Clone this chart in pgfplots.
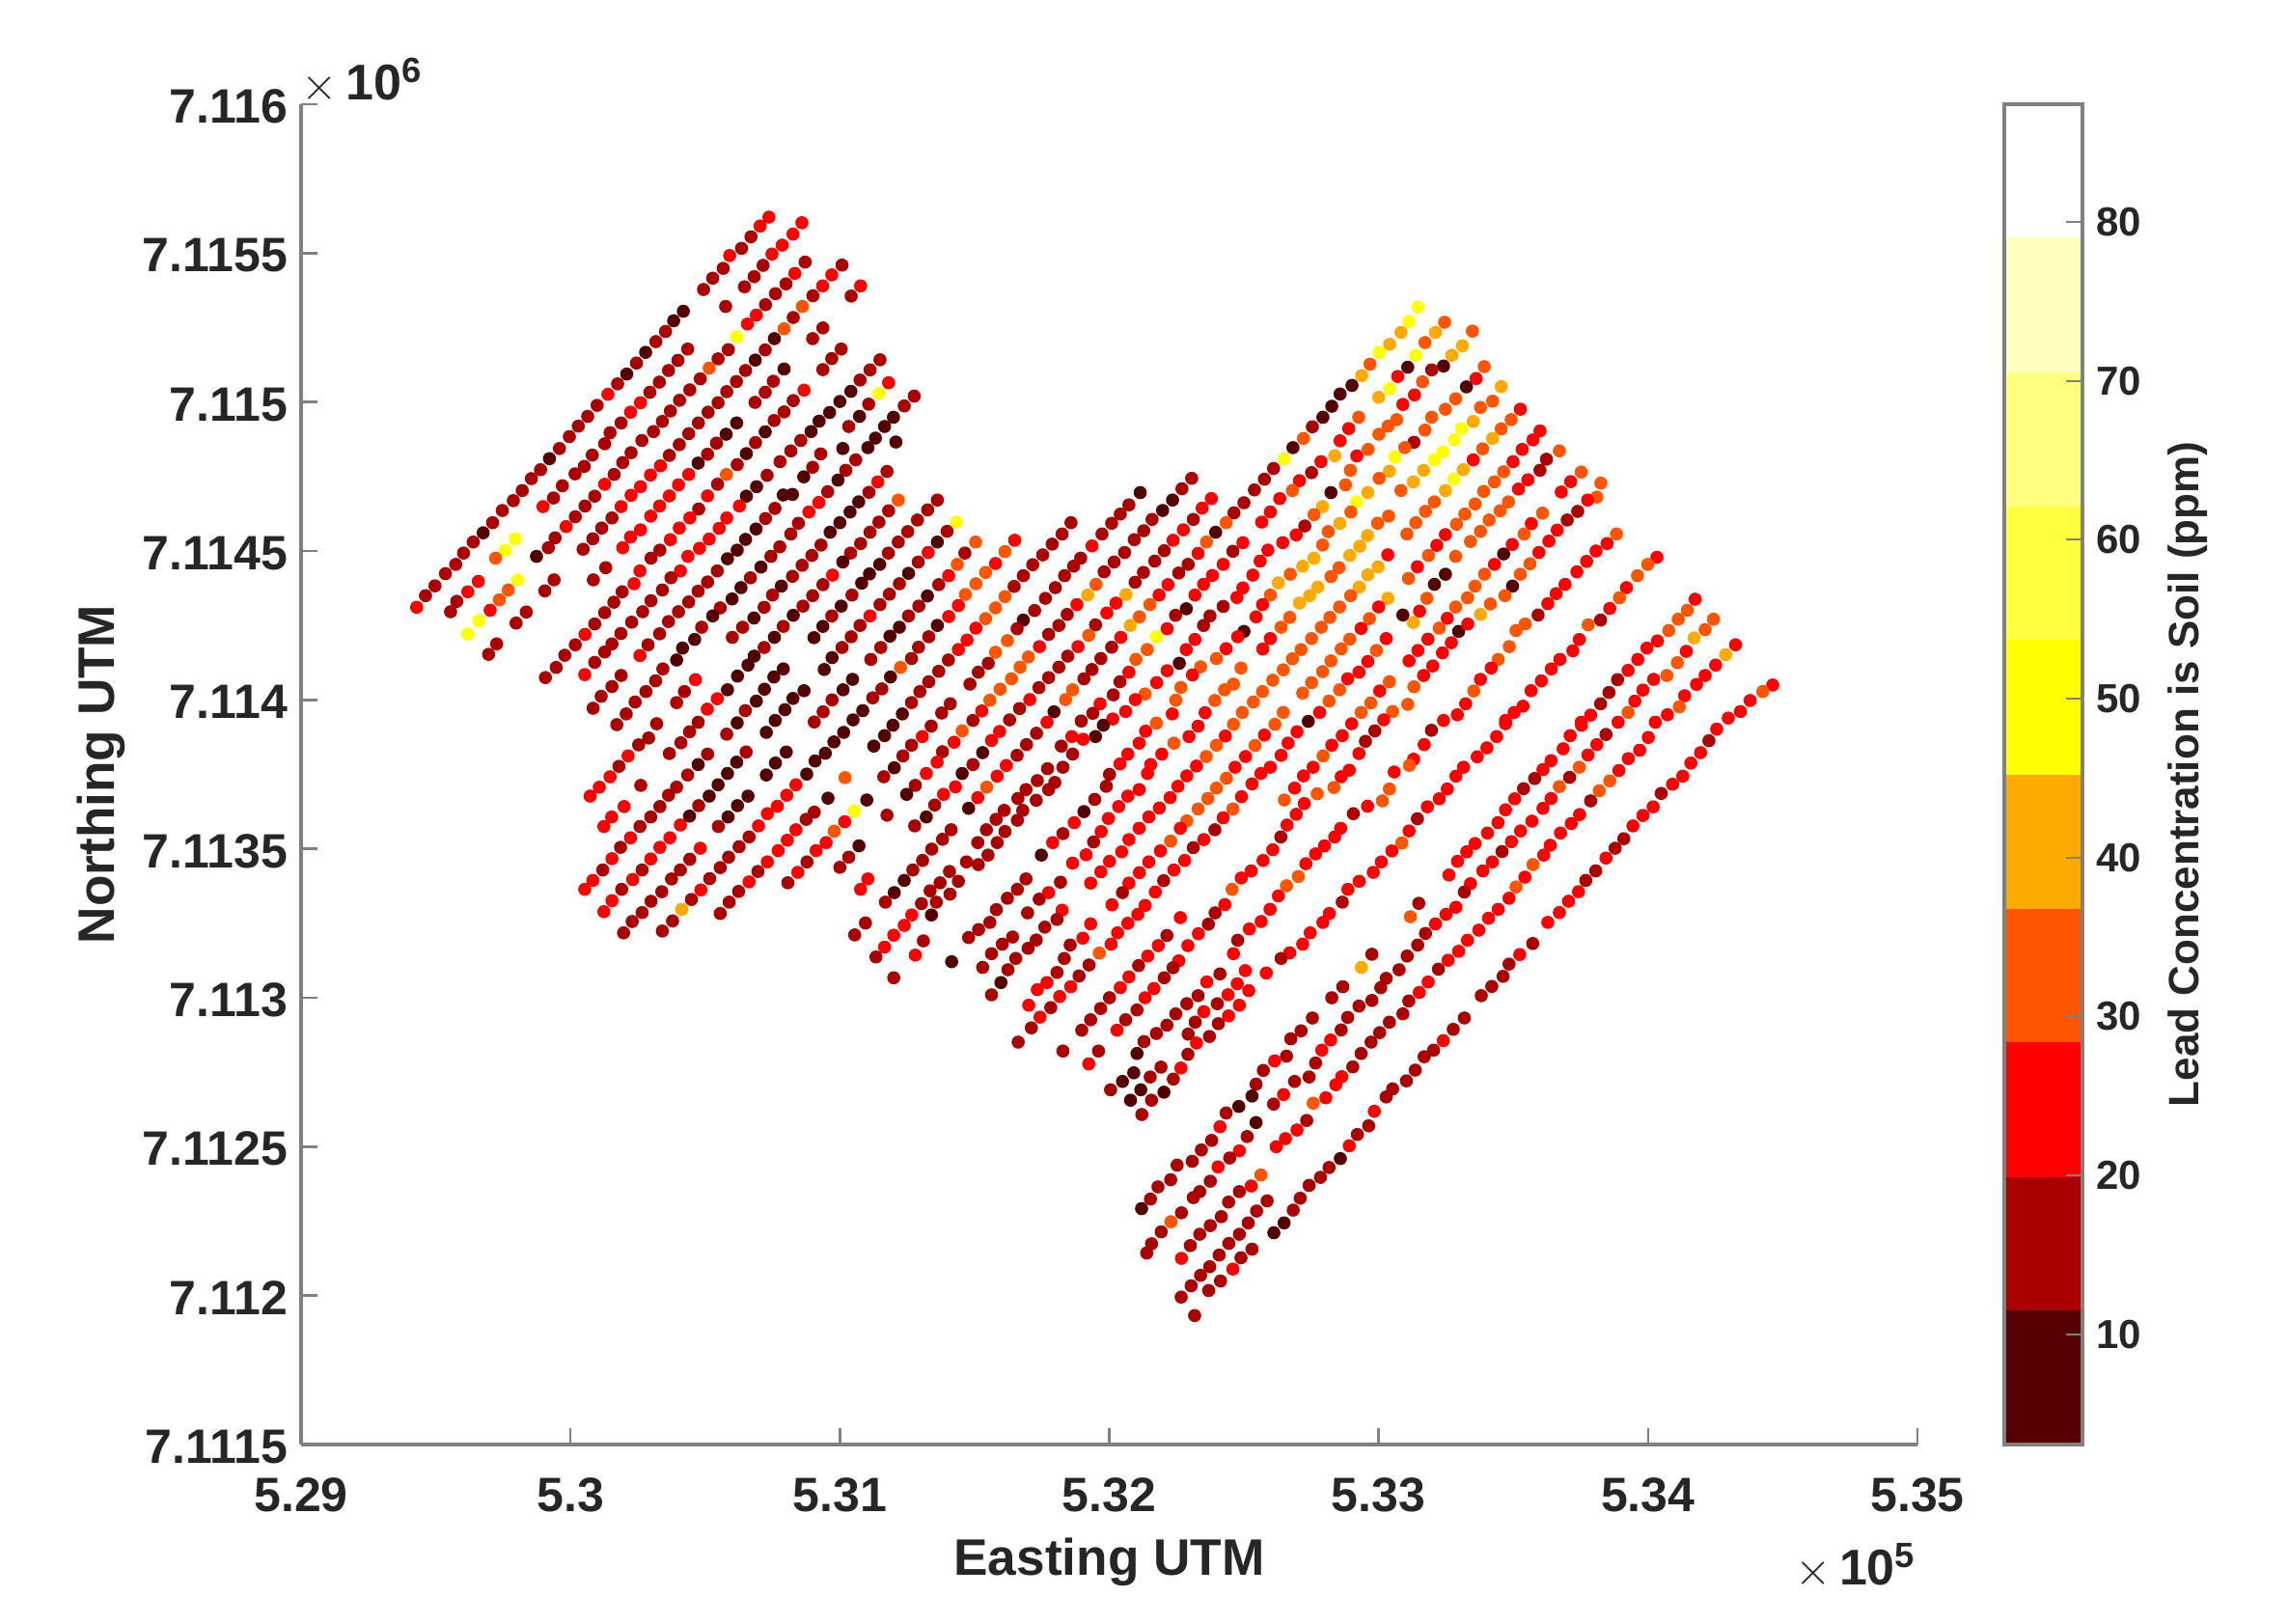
\documentclass[border=0pt]{standalone}
\usepackage{pgfplots}
\pgfplotsset{compat=1.18}
\usepackage{fontspec}
\setmainfont{Liberation Sans}
\definecolor{axc}{RGB}{128,128,128}
\definecolor{txc}{RGB}{38,38,38}
\definecolor{b1}{RGB}{85,0,0}
\definecolor{b2}{RGB}{170,0,0}
\definecolor{b3}{RGB}{255,0,0}
\definecolor{b4}{RGB}{255,85,0}
\definecolor{b5}{RGB}{255,170,0}
\definecolor{b6}{RGB}{255,255,0}
\definecolor{b7}{RGB}{255,255,64}
\definecolor{b8}{RGB}{255,255,128}
\definecolor{b9}{RGB}{255,255,191}
\definecolor{b10}{RGB}{255,255,255}
\pgfplotstableread{
E N c
529603 7114493 16
529639 7114530 16
529676 7114561 7
529711 7114595 16
529747 7114636 16
529788 7114669 16
529821 7114703 16
529855 7114743 16
529889 7114773 16
529922 7114810 7
529959 7114844 16
529996 7114884 16
530029 7114919 16
530064 7114952 16
530099 7114989 16
530139 7115026 24
530175 7115061 16
530209 7115094 7
530245 7115131 16
530279 7115167 7
530317 7115203 16
530353 7115237 16
530383 7115273 7
530419 7115305 7
530494 7115378 16
530528 7115416 16
530567 7115449 16
530591 7115492 24
530635 7115516 16
530670 7115555 16
530704 7115591 24
530737 7115621 24
530646 7115387 16
530682 7115421 16
530715 7115459 16
530748 7115497 24
530786 7115527 24
530826 7115564 24
530859 7115602 24
530576 7115321 16
530724 7115327 16
530761 7115364 16
530800 7115397 16
530833 7115432 24
530871 7115470 16
530690 7115292 24
530657 7115262 24
530617 7115219 49
530586 7115176 16
530548 7115145 16
530515 7115114 33
530482 7115078 16
530443 7115041 16
530405 7115006 16
530371 7114970 16
530341 7114935 16
530308 7114901 16
530265 7114871 16
530225 7114830 16
530194 7114797 16
530162 7114757 16
530127 7114724 24
530090 7114684 16
530054 7114651 16
530018 7114615 16
529984 7114582 24
529943 7114544 16
529918 7114511 16
531008 7115460 16
530970 7115427 24
530936 7115390 24
530900 7115357 16
530861 7115321 33
530827 7115284 16
530793 7115246 33
530757 7115213 7
530723 7115175 16
530686 7115141 7
530650 7115106 16
530616 7115069 16
530580 7115035 16
530548 7114998 16
530511 7114966 16
530475 7114930 16
530439 7114894 16
530404 7114857 16
530367 7114821 16
530334 7114786 24
530297 7114755 24
530260 7114716 24
530225 7114687 24
530188 7114649 24
530154 7114611 16
530116 7114577 16
530083 7114541 16
530047 7114506 16
531077 7115390 24
531042 7115356 16
530435 7115178 16
530399 7115140 16
530364 7115106 16
530330 7115067 16
530295 7115033 16
530260 7114998 24
530223 7114966 24
530188 7114930 16
530147 7114897 16
530127 7114860 16
530081 7114822 16
530051 7114784 16
530017 7114759 16
529970 7114719 16
529937 7114678 16
529898 7114649 24
530937 7115249 16
530899 7115213 16
531005 7115178 16
530970 7115146 16
530937 7115109 16
530793 7115111 7
530753 7115070 16
530723 7115033 16
530685 7114999 16
530617 7114930 7
530578 7114892 7
530542 7114862 16
530509 7114825 16
530474 7114795 7
530439 7114757 24
530401 7114722 24
530367 7114685 24
530331 7114651 24
530298 7114617 24
530260 7114571 24
530223 7114547 24
530194 7114511 24
530579 7114757 33
530546 7114724 16
530509 7114685 24
530476 7114641 16
530443 7114611 24
530404 7114577 24
530371 7114538 24
530332 7114503 16
530299 7114476 16
530867 7115040 24
530827 7115005 16
530793 7114967 16
530756 7114938 16
530723 7114900 7
530687 7114864 16
530653 7114827 7
530619 7114790 16
530730 7114754 16
530691 7114716 7
530653 7114684 7
530627 7114651 24
530580 7114611 24
530552 7114576 24
530515 7114540 24
530479 7114509 24
530436 7114482 24
531149 7115142 16
531112 7115108 16
531075 7115074 16
531041 7115036 7
531000 7115002 7
530962 7114965 7
530923 7114936 7
530893 7114901 7
530855 7114871 16
530818 7114836 16
530778 7114800 16
531181 7115065 24
531145 7115029 49
531107 7114993 16
531073 7114952 7
531033 7114918 16
531276 7115020 16
531239 7114987 16
531199 7114949 7
531166 7114918 7
531132 7114879 7
531104 7114847 7
531208 7114866 7
531011 7114844 7
530929 7114826 16
530899 7114781 16
530866 7114749 7
531059 7114806 16
531022 7114771 16
530993 7114738 7
530955 7114699 16
530922 7114663 24
530885 7114631 24
530846 7114593 16
530818 7114557 16
530777 7114514 16
530744 7114482 16
531175 7114767 16
531141 7114732 24
531108 7114697 16
531070 7114665 7
531038 7114631 7
531000 7114595 7
530964 7114563 7
530930 7114520 16
530896 7114485 16
530824 7114690 7
530790 7114688 7
530759 7114643 16
530724 7114609 16
530689 7114574 7
530650 7114539 7
530619 7114503 7
530583 7114474 7
531217 7114671 33
531181 7114635 16
531145 7114597 16
531112 7114563 16
531077 7114525 16
531040 7114493 16
531362 7114671 16
531326 7114638 16
531288 7114604 16
531252 7114565 16
531217 7114530 16
531180 7114493 16
531433 7114597 49
531398 7114566 16
531362 7114530 7
531328 7114495 24
529795 7114541 49
529758 7114503 49
529722 7114476 33
529874 7114482 7
529429 7114311 24
529462 7114350 16
529497 7114383 16
529536 7114424 16
529574 7114455 16
529555 7114296 16
529578 7114331 16
529619 7114363 24
529658 7114398 24
529804 7114403 49
529769 7114369 33
529736 7114336 33
529702 7114301 24
529660 7114266 49
529619 7114221 49
529726 7114188 16
529696 7114153 16
529836 7114295 16
529798 7114258 16
529939 7114403 16
529905 7114366 16
530131 7114444 16
530085 7114403 16
530258 7114433 24
530236 7114390 24
530192 7114363 16
530161 7114328 16
530127 7114293 16
530090 7114255 16
530054 7114220 24
530018 7114185 16
529979 7114150 16
529947 7114109 16
529907 7114075 16
530408 7114433 24
530373 7114410 16
530341 7114369 16
530299 7114333 16
530268 7114296 16
530227 7114261 16
530187 7114223 16
530154 7114188 16
530127 7114161 16
530090 7114126 16
530053 7114085 24
530545 7114433 16
530509 7114396 16
530474 7114365 16
530439 7114329 16
530401 7114296 16
530364 7114263 16
530331 7114222 16
530288 7114185 16
530258 7114149 24
530707 7114446 7
530668 7114410 16
530633 7114377 7
530600 7114339 7
530556 7114309 16
530528 7114282 7
530487 7114244 16
530461 7114203 7
530416 7114174 7
530394 7114134 7
530343 7114104 16
530316 7114064 16
530280 7114028 16
530240 7113993 16
530207 7113953 16
530172 7113917 16
530860 7114452 16
530824 7114415 16
530783 7114382 7
530750 7114352 16
530719 7114311 16
530681 7114275 7
530639 7114244 16
530601 7114210 16
531011 7114463 7
530973 7114419 24
530937 7114387 16
530899 7114350 16
530863 7114315 16
530827 7114284 7
530790 7114247 16
530757 7114210 7
530719 7114176 16
530682 7114147 7
530659 7114117 7
530620 7114080 7
530583 7114034 7
530545 7114004 24
530508 7113969 24
530474 7113925 16
530442 7113893 16
530410 7113856 16
530367 7113820 16
530188 7114082 16
530154 7114045 16
530114 7114012 16
530084 7113972 16
530464 7114068 24
530423 7114028 16
530394 7113991 16
530320 7113920 16
530290 7113872 16
530253 7113849 16
530214 7113812 24
530180 7113777 16
530147 7113742 24
530107 7113707 24
530073 7113677 24
531148 7114455 7
531110 7114423 7
531081 7114392 7
531045 7114352 16
531005 7114315 7
530970 7114282 16
530937 7114247 7
530904 7114209 7
531291 7114463 16
531255 7114425 7
531221 7114390 16
531184 7114355 16
531149 7114320 16
531112 7114282 24
531075 7114250 16
531042 7114212 16
531008 7114176 16
530971 7114142 7
530942 7114102 7
530790 7114104 7
530755 7114077 7
530720 7114036 7
530690 7113996 7
530649 7113964 16
530619 7113923 7
530580 7113885 16
530867 7114031 7
530826 7114005 7
530796 7113967 7
530760 7113931 7
530727 7113891 7
531047 7114069 7
531012 7114034 7
530971 7114000 16
530938 7113960 16
530905 7113926 16
531436 7114455 33
531404 7114417 24
531367 7114387 16
531325 7114349 7
531293 7114315 16
531255 7114282 16
531221 7114244 7
531186 7114214 7
531152 7114176 16
531115 7114136 16
531440 7114317 24
531404 7114280 24
531362 7114250 7
531330 7114212 16
531292 7114177 16
531266 7114139 16
531225 7114109 33
531188 7114077 7
531156 7114037 16
531122 7114007 16
531085 7113964 7
531049 7113933 7
531014 7113891 7
530978 7113859 7
530946 7113821 7
530908 7113795 7
530877 7113751 7
530837 7113715 24
530803 7113680 24
530768 7113643 24
530731 7113618 24
530698 7113577 24
530663 7113540 16
530626 7113507 16
530587 7113472 16
530556 7113437 16
530517 7113400 16
530484 7113362 24
530449 7113330 16
530413 7113297 41
530379 7113258 16
530341 7113224 16
531440 7114169 24
531403 7114134 16
531367 7114096 16
531330 7114061 16
531297 7114028 16
531266 7113991 16
531232 7113953 7
531197 7113915 7
531166 7113880 7
531126 7113845 7
531410 7113987 16
531378 7113956 16
531339 7113912 16
531306 7113877 24
531266 7113848 16
531234 7113812 16
531202 7113772 7
531163 7113742 16
531424 7113858 24
531454 7113896 33
531381 7113826 16
531361 7113791 24
531321 7113753 24
531280 7113713 16
531248 7113683 7
531454 7113753 7
531429 7113708 24
531385 7113683 24
531352 7113647 16
531321 7113607 7
531278 7113577 16
530652 7113825 16
530617 7113791 7
530583 7113753 7
530548 7113715 7
530515 7113677 7
530476 7113645 16
530442 7113610 7
530408 7113580 24
530369 7113537 24
530332 7113505 24
530298 7113466 24
530266 7113429 16
530231 7113397 24
530190 7113364 16
530154 7113326 24
530124 7113289 24
530509 7113818 16
530474 7113783 7
530435 7113748 16
530394 7113707 16
530364 7113680 16
530332 7113642 16
530298 7113607 16
530258 7113575 16
530223 7113537 24
530186 7113505 16
530154 7113467 24
530120 7113429 16
530083 7113394 24
530053 7113364 24
530801 7113825 7
530761 7113788 7
530727 7113748 7
530261 7113713 16
530199 7113642 24
530153 7113607 24
530124 7113575 24
530659 7113677 7
530620 7113645 7
530585 7113607 7
530549 7113575 16
530956 7113670 7
530905 7113623 16
530875 7113599 16
530837 7113564 24
530805 7113529 24
530771 7113494 24
530731 7113456 24
530696 7113424 16
530663 7113389 24
530624 7113357 16
530589 7113321 16
530556 7113283 16
531019 7113739 33
531100 7113664 7
531175 7113613 16
531053 7113627 49
531018 7113591 24
530979 7113559 33
530949 7113521 24
530912 7113494 24
530878 7113456 16
530844 7113421 24
530807 7113386 16
531071 7113510 7
531033 7113472 16
531000 7113438 16
530482 7113502 24
530443 7113465 16
530408 7113429 16
530375 7113399 16
530339 7113356 16
530299 7113324 16
530266 7113286 16
530229 7113256 16
530197 7113218 16
531104 7113399 24
531077 7113364 24
531239 7113394 7
531202 7113353 7
531169 7113321 16
531095 7113251 16
531055 7113211 16
531413 7113564 16
531381 7113532 16
531341 7113499 16
531307 7113461 16
531271 7113429 16
531407 7113424 16
531372 7113386 16
531335 7113359 16
531440 7113391 16
531409 7113348 16
531358 7113321 16
531303 7113316 16
531340 7113278 7
531267 7113278 24
531239 7113243 24
531200 7113210 24
531166 7113170 24
531134 7113137 16
531310 7113191 16
531280 7113143 24
531415 7113121 7
531200 7113067 16
531504 7114530 33
531464 7114493 16
531649 7114536 24
531613 7114498 33
531578 7114458 24
531541 7114428 33
531505 7114390 33
531466 7114354 33
531858 7114595 16
531825 7114557 16
531788 7114523 16
531753 7114487 16
531716 7114454 16
531681 7114417 16
531647 7114381 16
531613 7114347 33
531578 7114309 33
531541 7114273 33
531505 7114241 24
531472 7114201 24
532115 7114696 7
532073 7114655 16
532041 7114624 16
532009 7114593 16
531973 7114557 16
531936 7114517 24
531894 7114476 16
531868 7114449 16
531834 7114417 16
531800 7114377 16
531763 7114341 16
531723 7114300 16
531681 7114268 7
531658 7114239 16
531622 7114199 33
531578 7114160 33
531551 7114123 16
531514 7114093 16
531483 7114053 16
532306 7114744 16
532270 7114709 16
532235 7114671 7
532198 7114636 7
532159 7114606 16
532128 7114568 16
532093 7114538 16
532057 7114495 16
532018 7114463 16
531981 7114430 16
531951 7114388 33
531920 7114352 41
531880 7114320 24
531844 7114287 16
531813 7114250 16
531775 7114220 16
531741 7114179 24
531700 7114144 33
531669 7114110 33
531637 7114071 33
531595 7114036 33
531557 7113999 33
531527 7113963 24
531494 7113931 16
532379 7114676 24
532345 7114644 24
532312 7114606 16
532275 7114571 24
532237 7114536 24
532204 7114501 16
532169 7114466 16
532127 7114428 16
532096 7114395 16
532062 7114354 41
532025 7114325 24
531991 7114292 24
531949 7114252 16
531924 7114217 33
531884 7114179 24
531846 7114147 16
531813 7114110 16
531775 7114075 16
531739 7114041 16
531705 7114001 24
531667 7113971 16
531630 7113933 16
531593 7113894 24
531563 7113864 24
531530 7113823 7
531494 7113783 16
531795 7113960 7
531769 7113925 24
531730 7113888 16
531693 7113850 16
531658 7113814 16
531618 7113780 24
531584 7113744 24
531545 7113707 33
531512 7113672 24
531478 7113636 7
532610 7114777 16
532576 7114741 16
532539 7114705 16
532500 7114662 16
532463 7114628 16
532434 7114595 33
532395 7114563 7
532361 7114530 33
532330 7114492 24
532293 7114455 16
532258 7114426 16
532218 7114387 24
532185 7114352 24
532151 7114320 33
532112 7114279 33
532078 7114250 41
532043 7114210 24
532009 7114177 16
531969 7114139 16
531936 7114102 16
531906 7114071 16
531864 7114034 33
531838 7114001 33
532496 7114528 24
532459 7114499 16
532423 7114455 24
532383 7114418 24
532350 7114388 24
532318 7114352 24
532286 7114306 7
532246 7114284 16
532215 7114239 24
532175 7114212 49
532141 7114169 33
532099 7114136 33
532073 7114093 24
532040 7114061 16
532015 7114017 16
532751 7114763 16
532706 7114736 24
532680 7114703 33
532633 7114676 24
532598 7114631 24
532566 7114597 24
532823 7114696 7
532792 7114649 41
532760 7114622 33
532726 7114584 16
532694 7114554 24
532644 7114528 24
532589 7114503 24
532560 7114466 24
532533 7114419 24
532496 7114376 24
532474 7114344 24
532423 7114314 16
532374 7114282 16
532350 7114250 16
532318 7114203 24
532286 7114169 24
532260 7114123 7
532215 7114098 24
532176 7114058 24
532133 7114020 33
532097 7114001 24
532061 7113961 24
532013 7113936 24
531978 7113915 7
531949 7113877 7
531903 7113868 24
531861 7113877 24
531822 7113845 16
531864 7113818 16
531966 7113987 24
531939 7113955 16
531896 7113929 16
532895 7114771 33
532877 7114722 33
532960 7114696 41
532918 7114665 49
532897 7114631 33
532856 7114593 41
532813 7114565 33
532792 7114520 33
532760 7114476 41
532718 7114449 41
532672 7114422 33
532628 7114393 41
532598 7114352 33
532569 7114320 24
532545 7114279 24
533040 7114768 41
533002 7114744 33
533037 7114617 33
532996 7114593 33
532959 7114552 41
532930 7114516 41
532893 7114485 41
532853 7114444 33
532823 7114414 33
532774 7114379 41
532744 7114350 41
532706 7114325 41
532670 7114277 33
532638 7114244 33
532598 7114206 24
532570 7114171 24
532500 7114230 7
532477 7114212 24
532434 7114172 24
532398 7114139 33
532339 7114111 33
532309 7114084 24
532266 7114042 33
532247 7113999 33
532234 7113953 24
532175 7113922 33
532135 7113895 24
532111 7113855 24
532069 7113818 24
532040 7113785 24
532001 7113750 16
531989 7113710 16
531946 7113666 16
531906 7113625 7
531870 7113588 24
531828 7113551 16
531790 7113521 24
533034 7114487 24
532998 7114447 41
532960 7114420 41
532928 7114379 41
532896 7114350 33
532855 7114312 33
532819 7114277 33
532787 7114244 33
532751 7114206 33
532712 7114169 33
532680 7114138 33
532646 7114101 33
532607 7114066 33
532569 7114028 33
532535 7113993 33
532494 7113958 33
532461 7113918 33
532431 7113879 24
532398 7113848 33
532360 7113810 33
532324 7113778 24
532288 7113745 24
532255 7113710 24
532226 7113672 24
532186 7113637 24
532147 7113607 24
532111 7113569 24
532073 7113531 24
532489 7114107 33
532461 7114053 33
532428 7114034 33
532392 7113998 33
532356 7113957 24
532330 7113912 24
532296 7113877 24
532240 7113855 33
532195 7113818 24
532154 7113783 24
532142 7113753 24
532111 7113699 24
532069 7113677 24
532035 7113642 24
531997 7113602 24
531970 7113558 24
531942 7113523 16
533034 7114341 41
533000 7114312 24
532966 7114273 33
532935 7114240 24
532893 7114204 33
532861 7114171 33
532823 7114131 33
532792 7114095 33
532751 7114058 33
532718 7114023 33
532646 7113958 33
532615 7113918 33
532576 7113882 24
532541 7113847 33
532506 7113810 24
532467 7113774 24
532435 7113737 33
532398 7113704 33
532366 7113669 33
532330 7113634 33
532288 7113594 33
532264 7113569 24
532228 7113526 33
533028 7114206 24
532992 7114166 33
532960 7114129 24
532927 7114093 24
532885 7114071 24
532855 7114034 33
532816 7113996 33
532781 7113958 24
532739 7113928 7
532697 7113893 24
532664 7113855 24
532638 7113814 24
532598 7113774 24
532563 7113753 24
532530 7113718 24
532491 7113675 24
532459 7113634 33
532423 7113604 24
532392 7113564 16
532351 7113531 24
532312 7113504 16
533040 7114061 33
533004 7114030 24
532971 7113990 33
532935 7113958 33
532900 7113920 24
532865 7113880 24
532826 7113848 24
532794 7113812 33
532757 7113774 24
532721 7113745 24
532688 7113704 24
532650 7113664 33
532772 7113685 33
532724 7113652 24
532694 7113616 24
532660 7113580 24
532637 7113540 16
533052 7113961 33
533019 7113933 24
532986 7113896 16
532951 7113861 16
532927 7113820 24
532891 7113764 24
532861 7113742 24
532834 7113706 33
533058 7113758 24
533040 7113701 33
533014 7113661 33
532959 7113643 24
532906 7113618 16
532859 7113569 24
532837 7113540 24
532799 7113510 24
531771 7113769 16
531828 7113774 16
531798 7113723 16
531733 7113729 16
531775 7113699 16
531691 7113699 16
531661 7113669 16
531729 7113663 16
531679 7113629 16
531659 7113596 16
531610 7113629 16
531580 7113599 16
531613 7113558 16
531544 7113564 16
531512 7113521 16
531584 7113521 16
531691 7113399 16
531659 7113364 16
531622 7113334 16
531581 7113296 16
531557 7113253 16
531515 7113229 16
531478 7113202 16
531819 7113388 16
531775 7113353 24
531740 7113331 16
531697 7113285 16
531825 7113294 24
531806 7113263 16
531761 7113237 16
531729 7113194 16
531699 7113166 16
531641 7113204 16
531603 7113180 16
531563 7113148 16
531530 7113102 16
531653 7113132 16
531624 7113094 16
531598 7113051 7
531563 7113010 16
531550 7113479 16
531514 7113447 16
531470 7113456 16
531864 7113452 24
531748 7113479 7
531914 7113480 24
531969 7113423 24
531931 7113385 24
532001 7113458 24
532046 7113490 24
532147 7113456 24
532112 7113420 24
532073 7113385 24
532049 7113353 16
532010 7113312 24
532280 7113461 24
532240 7113429 24
532202 7113393 16
532171 7113355 24
532133 7113310 24
532106 7113280 24
532069 7113250 24
532031 7113218 24
532007 7113180 24
531963 7113150 33
531931 7113248 24
531902 7113200 24
531855 7113177 16
531833 7113132 16
531806 7113085 16
531769 7113051 24
531733 7113027 24
531701 7112975 24
531743 7112935 24
531711 7112899 16
531662 7112851 16
531783 7112967 16
531816 7113004 24
531857 7113037 24
531888 7113073 16
531925 7113110 16
532190 7113493 24
532527 7113426 24
532490 7113402 24
532456 7113364 33
532429 7113313 24
532393 7113285 16
532368 7113247 16
532331 7113215 24
532292 7113175 24
532258 7113124 24
532237 7113101 16
532204 7113067 16
532166 7113031 24
532133 7113000 24
532103 7112959 16
532061 7112926 16
532029 7112891 24
532607 7113497 24
532571 7113461 24
532730 7113450 24
532702 7113407 33
532658 7113376 33
532628 7113342 24
532597 7113297 24
532564 7113256 24
532520 7113231 24
532477 7113193 16
532461 7113148 24
532264 7113269 24
532214 7113209 16
532182 7113175 24
532143 7113140 24
532109 7113108 16
532073 7113070 24
532041 7113034 24
532001 7113000 16
531968 7112964 16
531931 7112926 16
531898 7112891 16
532766 7113483 24
532817 7113283 24
532793 7113253 24
532746 7113218 24
532718 7113180 24
532670 7113151 24
532638 7113132 16
532583 7113083 24
532505 7113091 24
532411 7113080 16
532475 7113047 24
532362 7113053 24
532330 7113007 16
532288 7112980 16
532247 7112946 16
532214 7112908 16
532175 7112880 16
532129 7112853 16
532103 7112813 7
532518 7113024 24
532441 7113010 24
532401 7112980 16
532351 7112953 24
532319 7112918 16
532293 7112878 16
532324 7112848 24
532372 7112870 16
532405 7112913 16
532443 7112939 24
532483 7112975 24
532292 7112810 16
532266 7112764 24
532192 7112767 16
532238 7112727 16
532203 7112683 7
532152 7112734 16
532117 7112691 7
532091 7112748 7
532049 7112719 7
532005 7112691 16
532079 7112656 7
532157 7112656 16
532121 7112608 16
531960 7112821 16
531924 7112778 24
531828 7112821 16
533049 7113493 24
533010 7113456 24
532980 7113421 24
532928 7113391 24
532886 7113364 24
532865 7113321 16
532975 7113146 16
532936 7113102 41
532867 7113037 16
532826 7113000 16
532754 7112932 16
532712 7112889 16
532674 7112862 16
532658 7112804 16
532614 7112788 24
532572 7112756 16
532545 7112710 16
532530 7112670 7
532481 7112635 7
532434 7112613 16
532411 7112567 24
532380 7112521 16
532342 7112489 16
532308 7112451 16
532252 7112438 16
532742 7112734 16
532688 7112719 16
532647 7112675 24
532610 7112643 16
533028 7113065 16
533008 7113034 16
532975 7112991 16
532927 7112972 16
532885 7112934 16
532861 7112892 16
532822 7112858 24
532789 7112824 24
532766 7112781 16
533040 7112918 16
533004 7112883 16
532972 7112851 16
532935 7112813 16
532904 7112768 16
532863 7112735 24
532841 7112708 24
532804 7112664 24
532757 7112646 33
532733 7112588 16
532697 7112556 24
532654 7112527 24
532620 7112500 24
533052 7112694 16
533028 7112667 16
532984 7112619 24
532963 7112570 16
532921 7112541 16
532891 7112503 24
532858 7112460 7
532816 7112430 16
532784 7112397 16
532742 7112370 16
532709 7112327 16
532545 7112581 7
532512 7112534 16
532483 7112486 24
532447 7112462 16
532404 7112432 24
532375 7112384 16
532336 7112349 16
532312 7112329 16
532228 7112389 16
532181 7112365 16
532153 7112324 16
532563 7112405 33
532527 7112368 24
532483 7112349 16
532443 7112314 16
532586 7112318 16
532120 7112292 7
532193 7112214 16
532229 7112248 33
532268 7112278 16
532157 7112174 16
532139 7112143 16
532336 7112206 16
532375 7112235 16
532416 7112265 16
532301 7112168 16
532268 7112125 24
532547 7112284 16
532516 7112244 16
532483 7112206 16
532444 7112175 16
532408 7112136 16
532373 7112097 16
532339 7112068 16
532304 7112033 16
532267 7111995 16
532530 7112156 16
532489 7112127 16
532459 7112089 24
532413 7112049 16
532369 7112017 16
532317 7111933 16
532683 7112287 16
532649 7112244 7
532611 7112211 7
533103 7112721 16
533136 7112757 16
533146 7115319 49
533112 7115270 49
533083 7115234 41
533041 7115194 41
533002 7115167 49
532968 7115127 33
532937 7115089 41
532901 7115056 7
532857 7115027 7
532826 7114986 7
532793 7114949 7
532754 7114917 16
532721 7114878 33
532682 7114847 7
532649 7114809 49
533245 7115268 33
533211 7115234 41
533172 7115200 33
533138 7115157 49
533108 7115117 7
533071 7115086 24
533041 7115045 49
533000 7115016 41
533348 7115238 33
533311 7115189 41
533272 7115157 41
533241 7115121 7
533197 7115108 16
533163 7115068 33
533133 7115024 24
533090 7114992 24
533067 7114941 33
533035 7114919 33
533001 7114892 33
533392 7115119 33
533362 7115079 24
533326 7115051 7
533286 7115011 33
533248 7114976 33
533197 7114949 33
533172 7114906 33
533131 7114865 16
533097 7114847 33
533060 7114816 49
532926 7114949 33
532889 7114911 24
532857 7114870 24
532837 7114820 41
532786 7114800 24
532961 7114841 33
532919 7114819 24
533455 7115052 41
533423 7115003 33
533378 7114982 33
533351 7114935 41
533307 7114911 49
533281 7114873 49
533238 7114833 49
533207 7114806 49
533526 7114976 24
533492 7114941 33
533455 7114910 33
533423 7114878 41
533386 7114843 33
533351 7114806 24
533599 7114903 24
533573 7114873 24
533533 7114841 24
533499 7114800 24
533464 7114766 33
533430 7114732 33
533390 7114700 33
533358 7114658 33
533320 7114624 33
533289 7114590 33
533248 7114555 24
533216 7114519 24
533185 7114485 33
533144 7114447 24
533111 7114408 33
533179 7114341 33
533671 7114836 33
533623 7114808 16
533599 7114771 16
533554 7114739 24
533519 7114708 24
533482 7114665 33
533451 7114635 33
533410 7114604 33
533378 7114566 33
533341 7114532 33
533752 7114765 33
533713 7114733 24
533678 7114698 24
533825 7114728 33
533810 7114681 33
533776 7114671 24
533739 7114633 16
533700 7114604 16
533663 7114570 24
533632 7114533 24
533595 7114495 24
533562 7114457 33
533526 7114422 33
533497 7114382 7
533469 7114350 33
533415 7114322 33
533378 7114287 41
533608 7114627 33
533567 7114592 24
533540 7114557 33
533496 7114522 24
533464 7114490 7
533430 7114455 24
533393 7114422 33
533358 7114382 33
533330 7114343 33
533286 7114312 33
533255 7114274 24
533225 7114241 33
533183 7114204 24
533146 7114166 24
533113 7114131 24
533314 7114773 41
533279 7114741 49
533248 7114703 41
533207 7114665 33
533174 7114633 33
533138 7114595 33
533105 7114557 33
533167 7114771 41
533129 7114732 41
533083 7114703 33
533286 7114482 33
533248 7114422 7
533207 7114388 7
533152 7114298 24
533090 7114285 7
533129 7114260 41
533297 7114230 7
533331 7114255 24
533270 7114192 24
533237 7114158 24
533201 7114114 24
533167 7114082 24
533131 7114044 33
533108 7113985 33
533883 7114557 33
533848 7114525 24
533807 7114500 24
533772 7114465 24
533736 7114430 24
533692 7114388 24
533659 7114357 24
533628 7114323 24
533592 7114285 16
533544 7114255 33
533510 7114233 33
533485 7114179 33
533444 7114136 33
533418 7114107 24
533378 7114069 24
533353 7114030 33
533323 7113987 24
533292 7113950 24
533241 7113931 24
534033 7114479 24
533999 7114455 33
533961 7114417 33
533920 7114377 24
533894 7114343 33
533858 7114307 24
533824 7114268 16
533778 7114252 33
533745 7114203 24
533721 7114165 24
533673 7114136 24
533641 7114104 24
533604 7114064 24
533566 7114031 24
533536 7113979 24
533503 7113958 24
533471 7113931 24
534175 7114338 24
534146 7114301 33
534112 7114271 33
534077 7114233 33
534035 7114198 24
533996 7114174 24
533962 7114136 24
533926 7114099 24
533887 7114068 16
533855 7114025 16
533824 7113987 16
533787 7113949 24
533752 7113925 24
534243 7114271 33
534212 7114236 33
534171 7114208 41
534142 7114163 24
534109 7114125 33
534070 7114082 33
534021 7114069 24
533981 7114033 24
533951 7113996 24
533926 7113958 33
533889 7113925 24
534325 7114185 24
534288 7114152 41
534251 7114117 24
534212 7114082 24
534180 7114052 24
534136 7114014 24
534116 7113977 33
534072 7113950 24
534027 7113925 24
534463 7114050 24
534426 7114028 33
534379 7113998 24
534343 7113961 24
534298 7113939 24
534255 7113902 24
534226 7113863 16
534195 7113823 24
534159 7113788 24
534129 7113744 24
534091 7113717 24
534049 7113686 16
534019 7113641 24
533981 7113612 24
533944 7113577 24
533910 7113534 16
533878 7113502 16
533844 7113469 24
533806 7113426 16
533769 7113394 16
533742 7113356 24
533705 7113324 24
533671 7113286 24
533628 7113253 24
533572 7113182 16
533524 7113145 24
533484 7113113 16
533462 7113072 16
533420 7113038 16
533381 7113007 16
533318 7112932 16
533277 7112894 16
533240 7112856 24
533204 7112824 16
533169 7112802 16
534001 7113874 24
533969 7113831 24
533927 7113803 24
533892 7113763 24
533858 7113728 33
533819 7113695 33
533787 7113661 16
533746 7113615 24
533715 7113585 24
533675 7113553 24
533637 7113512 24
533613 7113479 24
533573 7113447 33
533543 7113405 24
533510 7113372 33
533484 7113334 24
533444 7113297 24
533408 7113267 24
533372 7113227 24
533330 7113193 24
533297 7113156 24
533258 7113126 24
533222 7113096 16
533184 7113053 24
533151 7113018 24
533112 7112989 16
533090 7112946 16
533844 7113884 16
533810 7113850 24
533777 7113815 24
533745 7113774 33
533709 7113740 16
533671 7113709 33
533640 7113669 24
533610 7113636 24
533569 7113593 24
533527 7113560 24
533493 7113524 24
533458 7113491 16
533422 7113456 24
533387 7113426 24
533341 7113383 24
533318 7113355 16
533287 7113304 24
533250 7113280 24
533211 7113248 24
533174 7113216 16
533145 7113177 16
533106 7113140 16
533753 7113915 24
533711 7113880 24
533685 7113836 24
533640 7113796 24
533610 7113766 24
533579 7113736 16
533538 7113702 16
533505 7113668 24
533471 7113631 24
533443 7113588 24
533404 7113553 24
533358 7113518 24
533327 7113490 24
533293 7113458 24
533261 7113412 24
533471 7113920 24
533438 7113877 24
533402 7113839 24
533366 7113809 24
533315 7113774 24
533287 7113744 24
533255 7113701 24
533225 7113668 24
533181 7113641 24
533144 7113601 16
533113 7113560 24
533086 7113520 33
533196 7113898 16
533169 7113850 24
533130 7113801 24
533114 7113780 33
533149 7113317 16
533118 7113272 33
533076 7113094 16
}\leadsoil
\begin{document}
\begin{tikzpicture}[x=1pt,y=1pt]
\useasboundingbox (0,0) rectangle (592.75,420.75);
\begin{axis}[
 at={(78pt,46.5pt)},anchor=south west,scale only axis,width=418.75pt,height=347.25pt,
 xmin=529000,xmax=535000,ymin=7111500,ymax=7116000,
 axis x line*=bottom,axis y line*=left,axis line style={axc,line width=0.8pt,-},
 tick style={axc,line width=0.6pt},tickwidth=4.2pt,tick align=inside,
 xtick={529000,530000,531000,532000,533000,534000,535000},
 xticklabels={5.29,5.3,5.31,5.32,5.33,5.34,5.35},
 ytick={7111500,7112000,7112500,7113000,7113500,7114000,7114500,7115000,7115500,7116000},
 yticklabels={7.1115,7.112,7.1125,7.113,7.1135,7.114,7.1145,7.115,7.1155,7.116},
 scaled ticks=false,
 ticklabel style={font=\fontsize{12.5}{14}\selectfont\bfseries,text=txc},
 xticklabel style={yshift=-5pt},
 yticklabel style={yshift=-0.6pt},
 xlabel={Easting UTM},ylabel={Northing UTM},
 xlabel style={font=\fontsize{13.3}{15}\selectfont\bfseries,text=txc,yshift=0pt},
 ylabel style={font=\fontsize{13.3}{15}\selectfont\bfseries,text=txc,yshift=-2.5pt},
 clip=false,
 point meta=explicit symbolic,
 scatter/classes={
  7={mark=*,draw=b1,fill=b1},16={mark=*,draw=b2,fill=b2},24={mark=*,draw=b3,fill=b3},
  33={mark=*,draw=b4,fill=b4},41={mark=*,draw=b5,fill=b5},49={mark=*,draw=b6,fill=b6}},
]
\addplot[scatter,only marks,mark size=1.5pt] table[x=E,y=N,meta=c]{\leadsoil};
\node[anchor=south west,inner sep=0pt,font=\fontsize{13}{15}\selectfont\bfseries,text=txc] at (rel axis cs:0,1) {$\times$\,10\textsuperscript{6}};
\node[anchor=north east,inner sep=0pt,font=\fontsize{13}{15}\selectfont\bfseries,text=txc] at (axis cs:535000,7111170) {$\times$\,10\textsuperscript{5}};
\end{axis}
\begin{axis}[
 at={(519.25pt,46.5pt)},anchor=south west,scale only axis,width=20.25pt,height=347.25pt,
 xmin=0,xmax=1,ymin=3.08,ymax=87.4,
 axis line style={axc,line width=0.8pt},axis on top,
 xtick=\empty,ytick={10,20,30,40,50,60,70,80},ytick pos=right,
 yticklabel pos=right,
 /pgf/number format/assume math mode=true,
 tick style={axc,line width=0.5pt},tickwidth=4.2pt,tick align=inside,
 ticklabel style={font=\fontsize{10.5}{12}\selectfont\bfseries,text=txc},
 ylabel={Lead Concentration is Soil (ppm)},
 ylabel near ticks,
 ylabel style={font=\fontsize{11}{13}\selectfont\bfseries,text=txc,yshift=0pt},
]
\addplot[fill=b1,draw=none] coordinates {(0,3.08)(1,3.08)(1,11.5)(0,11.5)} --cycle;
\addplot[fill=b2,draw=none] coordinates {(0,11.5)(1,11.5)(1,19.9)(0,19.9)} --cycle;
\addplot[fill=b3,draw=none] coordinates {(0,19.9)(1,19.9)(1,28.4)(0,28.4)} --cycle;
\addplot[fill=b4,draw=none] coordinates {(0,28.4)(1,28.4)(1,36.8)(0,36.8)} --cycle;
\addplot[fill=b5,draw=none] coordinates {(0,36.8)(1,36.8)(1,45.2)(0,45.2)} --cycle;
\addplot[fill=b6,draw=none] coordinates {(0,45.2)(1,45.2)(1,53.7)(0,53.7)} --cycle;
\addplot[fill=b7,draw=none] coordinates {(0,53.7)(1,53.7)(1,62.1)(0,62.1)} --cycle;
\addplot[fill=b8,draw=none] coordinates {(0,62.1)(1,62.1)(1,70.5)(0,70.5)} --cycle;
\addplot[fill=b9,draw=none] coordinates {(0,70.5)(1,70.5)(1,79)(0,79)} --cycle;
\addplot[fill=b10,draw=none] coordinates {(0,79)(1,79)(1,87.4)(0,87.4)} --cycle;
\end{axis}
\end{tikzpicture}
\end{document}
